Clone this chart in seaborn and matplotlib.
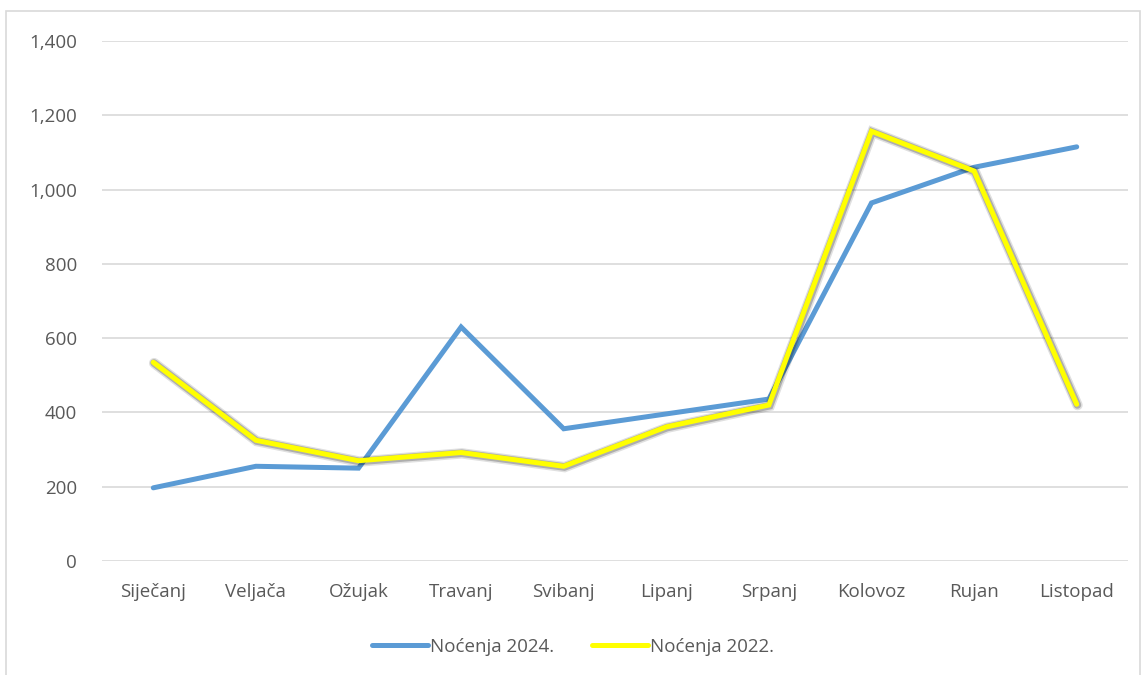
import pandas as pd
import numpy as np
import matplotlib.pyplot as plt
import matplotlib.patheffects as pe
from matplotlib.patches import Rectangle
import seaborn as sb

months = ['Siječanj', 'Veljača', 'Ožujak', 'Travanj', 'Svibanj',
          'Lipanj', 'Srpanj', 'Kolovoz', 'Rujan', 'Listopad']
nocenja_2024 = [197, 255, 250, 630, 356, 396, 436, 964, 1060, 1115]
nocenja_2022 = [535, 325, 270, 292, 255, 361, 420, 1157, 1050, 422]
series_names = ['Noćenja 2024.', 'Noćenja 2022.']

colors = {'Noćenja 2024.': '#5B9BD5', 'Noćenja 2022.': '#FFFF00'}

df = pd.DataFrame({
    'mjesec': months * 2,
    'x': list(range(len(months))) * 2,
    'vrijednost': nocenja_2024 + nocenja_2022,
    'serija': [series_names[0]] * len(months) + [series_names[1]] * len(months),
})

sb.set_style('white')
plt.rcParams['font.family'] = ['Open Sans', 'DejaVu Sans']

fig = plt.figure(figsize=(11.46, 6.75), dpi=100)
ax = fig.add_axes([102 / 1146, 1 - 561 / 675, 1026 / 1146, 520 / 675])

sb.lineplot(data=df, x='x', y='vrijednost', hue='serija', palette=colors,
            linewidth=3.6, ax=ax, legend=False, sort=False)

# soft shadow on the 2022 line, like the Excel glow
ax.lines[1].set_path_effects([
    pe.SimpleLineShadow(offset=(0.6, -0.6), shadow_color='black', alpha=0.12, linewidth=7.5),
    pe.SimpleLineShadow(offset=(0.5, -0.5), shadow_color='black', alpha=0.22, linewidth=5.5),
    pe.Normal()])
for ln in ax.lines:
    ln.set_solid_capstyle('round')
    ln.set_solid_joinstyle('miter')

ax.set_xlim(-0.5, len(months) - 0.5)
ax.set_ylim(0, 1400)
ax.set_yticks(np.arange(0, 1401, 200))
ax.set_yticklabels([f'{v:,}' for v in range(0, 1401, 200)])
ax.set_xticks(range(len(months)))
ax.set_xticklabels(months)
ax.grid(axis='y', color='#D9D9D9', linewidth=1.2)
ax.set_axisbelow(True)
for s in ax.spines.values():
    s.set_visible(False)
ax.tick_params(axis='both', length=0, labelsize=13.5, labelcolor='#595959')
ax.tick_params(axis='y', pad=18)
ax.tick_params(axis='x', pad=16)
ax.set_xlabel('')
ax.set_ylabel('')

handles = [plt.Line2D([], [], color=colors[n], linewidth=3.6, solid_capstyle='round')
           for n in series_names]
fig.legend(handles, series_names, loc='center', bbox_to_anchor=(0.5, 1 - 647 / 675),
           ncol=2, frameon=False, fontsize=13.5, labelcolor='#595959',
           handlelength=3.0, handletextpad=0.1, columnspacing=2.0)

fig.patches.append(Rectangle((6 / 1146, -0.01), 1134 / 1146, 1 - 11 / 675 + 0.01,
                             transform=fig.transFigure, fill=False,
                             edgecolor='#D9D9D9', linewidth=1.2))

fig.savefig('out.png', dpi=100, facecolor='white')
